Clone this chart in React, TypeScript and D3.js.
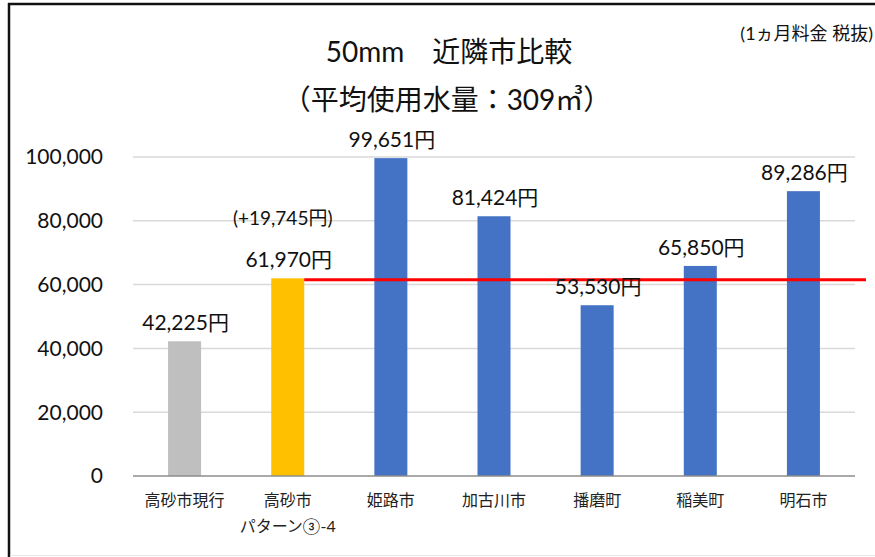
import React, { useEffect, useRef } from "react";
import * as d3 from "d3";

const categories = ["高砂市現行", "高砂市\nパターン③-4", "姫路市", "加古川市", "播磨町", "稲美町", "明石市"];
const values = [42225, 61970, 99651, 81424, 53530, 65850, 89286];
const barColors = ["#BFBFBF", "#FFC000", "#4472C4", "#4472C4", "#4472C4", "#4472C4", "#4472C4"];
const yTicks = [0, 20000, 40000, 60000, 80000, 100000];
const referenceIndex = 1;
const diffLabel = "(+19,745円)";

const FONT = "Lato, 'Noto Sans CJK JP', sans-serif";

export default function App() {
  const svgRef = useRef<SVGSVGElement | null>(null);

  useEffect(() => {
    const width = 875;
    const height = 557;
    const margin = { top: 157, right: 20, bottom: 81, left: 133 };
    const innerWidth = 855 - margin.left;
    const innerHeight = 476 - margin.top;

    d3.select(svgRef.current).selectAll("*").remove();

    const svg = d3
      .select(svgRef.current)
      .attr("width", width)
      .attr("height", height)
      .style("position", "absolute")
      .style("left", "0px")
      .style("top", "0px")
      .style("background", "#fff");

    // frame
    svg.append("line").attr("x1", 9).attr("x2", 9).attr("y1", 3).attr("y2", 557)
      .attr("stroke", "#111").attr("stroke-width", 2.5);
    svg.append("line").attr("x1", 8).attr("x2", 875).attr("y1", 4).attr("y2", 4)
      .attr("stroke", "#111").attr("stroke-width", 2.5);
    svg.append("line").attr("x1", 10).attr("x2", 875).attr("y1", 555.5).attr("y2", 555.5)
      .attr("stroke", "#e6e6e6").attr("stroke-width", 1);

    const g = svg.append("g").attr("transform", `translate(${margin.left},${margin.top})`);

    const x = d3.scaleBand<number>()
      .domain(d3.range(categories.length))
      .range([0, innerWidth])
      .paddingInner(0.68)
      .paddingOuter(0.34);

    const y = d3.scaleLinear().domain([0, 100000]).range([innerHeight, 0]);

    // gridlines
    g.selectAll(".grid")
      .data(yTicks.filter((t) => t > 0))
      .join("line")
      .attr("x1", 0)
      .attr("x2", innerWidth)
      .attr("y1", (d) => y(d))
      .attr("y2", (d) => y(d))
      .attr("stroke", "#D9D9D9")
      .attr("stroke-width", 1.5);

    // y tick labels
    g.selectAll(".ytick")
      .data(yTicks)
      .join("text")
      .attr("x", -30)
      .attr("y", (d) => y(d))
      .attr("dy", "0.35em")
      .attr("text-anchor", "end")
      .attr("font-family", FONT)
      .attr("font-size", 21)
      .attr("fill", "#111")
      .text((d) => d3.format(",")(d));

    // bars
    g.selectAll(".bar")
      .data(values)
      .join("rect")
      .attr("x", (_, i) => x(i)!)
      .attr("width", x.bandwidth())
      .attr("y", (d) => y(d))
      .attr("height", (d) => innerHeight - y(d))
      .attr("fill", (_, i) => barColors[i]);

    // baseline
    g.append("line")
      .attr("x1", 0).attr("x2", innerWidth)
      .attr("y1", innerHeight).attr("y2", innerHeight)
      .attr("stroke", "#8C8C8C").attr("stroke-width", 1.5);

    // reference line
    g.append("line")
      .attr("x1", x(referenceIndex)! + x.bandwidth())
      .attr("x2", 866 - margin.left)
      .attr("y1", y(values[referenceIndex]) + 1.5)
      .attr("y2", y(values[referenceIndex]) + 1.5)
      .attr("stroke", "#FF0000")
      .attr("stroke-width", 3);

    // value labels
    g.selectAll(".vlabel")
      .data(values)
      .join("text")
      .attr("x", (_, i) => x(i)! + x.bandwidth() / 2 + 1)
      .attr("y", (d) => y(d) - 11)
      .attr("text-anchor", "middle")
      .attr("font-family", FONT)
      .attr("font-size", 21)
      .attr("fill", "#111")
      .text((d) => d3.format(",")(d) + "円");

    g.append("text")
      .attr("x", x(referenceIndex)! + x.bandwidth() / 2 - 5)
      .attr("y", y(values[referenceIndex]) - 53)
      .attr("text-anchor", "middle")
      .attr("font-family", FONT)
      .attr("font-size", 19)
      .attr("fill", "#111")
      .text(diffLabel);

    // x labels
    categories.forEach((c, i) => {
      const lines = c.split("\n");
      lines.forEach((ln, j) => {
        g.append("text")
          .attr("x", x(i)! + x.bandwidth() / 2)
          .attr("y", innerHeight + 30 + j * 26)
          .attr("text-anchor", "middle")
          .attr("font-family", FONT)
          .attr("font-size", 16)
          .attr("fill", "#222")
          .text(ln);
      });
    });

    // titles
    svg.append("text")
      .attr("x", 449).attr("y", 62)
      .attr("text-anchor", "middle")
      .attr("font-family", FONT)
      .attr("font-size", 28)
      .attr("fill", "#111")
      .text("50mm　近隣市比較");

    svg.append("text")
      .attr("x", 447).attr("y", 110)
      .attr("text-anchor", "middle")
      .attr("font-family", FONT)
      .attr("font-size", 28)
      .attr("fill", "#111")
      .text("（平均使用水量：309㎥）");

    svg.append("text")
      .attr("x", 873).attr("y", 40)
      .attr("text-anchor", "end")
      .attr("font-family", FONT)
      .attr("font-size", 18)
      .attr("fill", "#111")
      .text("(1ヵ月料金 税抜)");
  }, []);

  return <svg ref={svgRef}></svg>;
}
